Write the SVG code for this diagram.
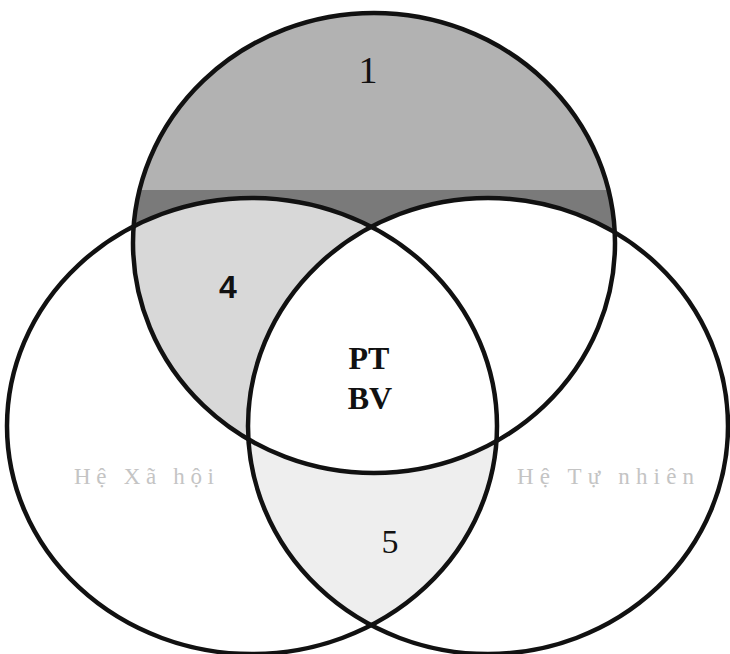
<svg xmlns="http://www.w3.org/2000/svg" width="730" height="654" viewBox="0 0 730 654">
  <defs>
    <clipPath id="clipTop"><ellipse cx="374" cy="243" rx="241" ry="230"/></clipPath>
    <clipPath id="clipLeft"><ellipse cx="252" cy="426" rx="245" ry="228"/></clipPath>
    <clipPath id="clipRight"><ellipse cx="488" cy="426" rx="240" ry="228"/></clipPath>
    <clipPath id="clipUpper"><rect x="0" y="0" width="730" height="190"/></clipPath>
    <clipPath id="clipBand"><rect x="0" y="0" width="730" height="240"/></clipPath>
  </defs>
  <style>
    .ring { fill: none; stroke: #111; stroke-width: 4.5; }
    .num { font-family: "Liberation Serif", "Times New Roman", serif; fill: #111; }
    .core { font-family: "Liberation Serif", "Times New Roman", serif; font-weight: bold; font-size: 32px; fill: #111; text-anchor: middle; }
    .faint { font-family: "Liberation Serif", "Times New Roman", serif; font-size: 23px; fill: #c4c4c4; }
  </style>
  <rect width="730" height="654" fill="#ffffff"/>

  <g id="shading">
    <ellipse cx="374" cy="243" rx="241" ry="230" fill="#7a7a7a" clip-path="url(#clipBand)"/>
    <ellipse cx="374" cy="243" rx="241" ry="230" fill="#b2b2b2" clip-path="url(#clipUpper)"/>
    <g clip-path="url(#clipTop)">
      <ellipse cx="252" cy="426" rx="245" ry="228" fill="#d8d8d8"/>
      <ellipse cx="488" cy="426" rx="240" ry="228" fill="#ffffff"/>
    </g>
    <g clip-path="url(#clipLeft)">
      <ellipse cx="488" cy="426" rx="240" ry="228" fill="#eeeeee"/>
      <ellipse cx="374" cy="243" rx="241" ry="230" fill="#ffffff" clip-path="url(#clipRight)"/>
    </g>
  </g>

  <g id="circle-top">
    <ellipse class="ring" cx="374" cy="243" rx="241" ry="230"/>
    <text class="num" x="368" y="83" font-size="38" text-anchor="middle">1</text>
  </g>
  <g id="circle-left">
    <ellipse class="ring" cx="252" cy="426" rx="245" ry="228"/>
    <text class="faint" x="74" y="484" textLength="140" lengthAdjust="spacing">Hệ Xã hội</text>
  </g>
  <g id="circle-right">
    <ellipse class="ring" cx="488" cy="426" rx="240" ry="228"/>
    <text class="faint" x="517" y="484" textLength="177" lengthAdjust="spacing">Hệ Tự nhiên</text>
  </g>
  <g id="region-4">
    <text x="228" y="298" font-family="Liberation Sans, Arial, sans-serif" font-size="32" font-weight="bold" text-anchor="middle" fill="#111">4</text>
  </g>
  <g id="region-5">
    <text class="num" x="390" y="553" font-size="34" text-anchor="middle">5</text>
  </g>
  <g id="center-PTBV">
    <text class="core" x="369" y="369">PT</text>
    <text class="core" x="370" y="409">BV</text>
  </g>
  <g id="connectors"/>
</svg>
